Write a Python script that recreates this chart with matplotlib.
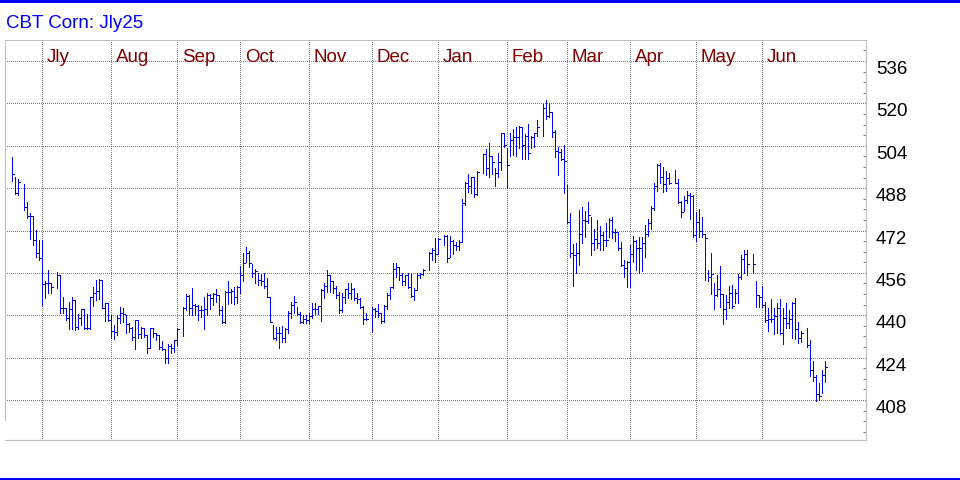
import matplotlib
matplotlib.use("Agg")
import matplotlib.pyplot as plt
import matplotlib.transforms as mtransforms
from matplotlib.patches import Rectangle
from matplotlib.ticker import MultipleLocator
import numpy as np
import pandas as pd

TITLE = "CBT Corn: Jly25"
START = "2024-06-14"          # first bar; one slot per weekday, holidays left blank
MONTHS = ["Jly", "Aug", "Sep", "Oct", "Nov", "Dec",
          "Jan", "Feb", "Mar", "Apr", "May", "Jun"]
PRICE_TICKS = [408, 424, 440, 456, 472, 488, 504, 520, 536]

# daily high / low / close (cents per bushel), None = market closed
highs = [
    499.6, 492.3, 491.3, None, 489.6, 482.8, 478.5, 477.5, 472.2, 468.4,
    468.4, 452.9, 457.1, 452.3, None, 456.3, 455.2, 447.0, 442.6, 444.9,
    447.0, 445.8, 440.5, 442.2, 442.2, 440.5, 447.0, 450.8, 453.3, 453.6,
    453.3, 444.5, 444.5, 440.0, 436.3, 440.0, 443.0, 442.8, 440.0, 437.0,
    435.5, 438.2, 438.2, 435.5, 435.1, 432.6, 435.1, 435.1, 433.4, 432.6,
    430.4, 427.1, 429.2, 429.2, 430.7, 435.1, None, 443.0, 448.0, 447.7,
    450.2, 444.3, 443.9, 443.5, 447.0, 448.3, 448.0, 448.5, 449.8, 447.7,
    443.5, 449.3, 453.1, 449.8, 450.8, 451.2, 458.6, 463.6, 465.9, 464.4,
    459.4, 457.3, 456.1, 455.6, 456.1, 453.9, 447.0, 436.3, 435.7, 435.5,
    435.9, 435.1, 441.7, 445.1, 447.2, 443.2, 441.2, 440.0, 440.0, 441.0,
    444.5, 444.5, 443.5, 449.8, 452.0, 457.1, 455.2, 453.1, 451.0, 448.9,
    448.3, 449.8, 452.0, 452.0, 450.2, 448.3, 446.4, 443.5, 441.0, None,
    443.2, 442.6, 444.2, 441.0, 443.9, 448.5, 450.8, 459.6, 459.9, 458.4,
    455.8, 455.2, 455.8, 455.6, 450.2, 455.8, 455.8, 457.3, None, 464.0,
    465.3, 469.0, 469.0, None, 470.3, 470.3, 469.8, 468.6, 467.5, 468.6,
    484.0, 490.2, 493.2, 492.3, 492.2, 494.6, None, 500.9, 502.7, 505.2,
    500.1, 495.5, 501.4, 509.0, 509.0, 503.0, 509.0, 510.2, 511.0, 511.5,
    511.2, 508.5, 512.2, 507.7, 509.0, 513.7, None, 519.8, 521.3, 520.3,
    516.9, 510.0, 503.4, 502.7, 504.3, 489.2, 478.7, 466.9, 467.4, 479.7,
    480.7, 479.5, 482.9, 477.2, 472.5, 476.0, 473.7, 471.4, 475.0, 476.6,
    477.1, 472.7, 471.6, 467.6, 460.8, 460.6, 466.4, 470.0, 468.3, 469.5,
    469.5, 474.0, 476.2, 481.3, 490.0, 497.0, 497.4, 496.1, 494.6, 493.9,
    None, 494.9, 491.3, 483.3, 485.0, 487.1, 486.3, 485.4, 478.8, 480.0,
    477.0, 470.7, 457.1, 463.6, 452.1, 455.2, 458.6, 448.0, 447.7, 451.1,
    451.4, 449.8, 455.6, 462.8, 464.7, 464.7, None, 463.1, 453.1, 447.7,
    451.1, 445.1, 442.6, 446.0, 442.6, 444.8, 446.0, 442.6, 444.5, 442.0,
    445.1, 446.4, 437.6, 434.2, None, 435.1, 430.7, 422.9, 417.5, 414.5,
    419.3, 422.9,
]

lows = [
    490.8, 485.8, 485.4, None, 479.8, 476.6, 468.9, 466.7, 462.1, 461.0,
    443.8, 446.7, 448.5, 448.5, None, 450.4, 440.7, 440.7, 438.2, 434.7,
    434.7, 434.4, 434.7, 436.3, 434.9, 434.7, 434.9, 443.5, 445.8, 446.0,
    442.6, 437.8, 438.0, 431.5, 431.2, 432.5, 437.0, 437.6, 433.2, 433.5,
    430.7, 427.1, 431.3, 431.3, 431.9, 425.6, 427.5, 431.9, 430.7, 427.1,
    426.9, 421.9, 421.9, 425.6, 426.3, 428.8, None, 432.0, 442.0, 440.1,
    440.1, 440.1, 438.2, 439.5, 434.7, 440.1, 442.2, 443.9, 445.1, 440.1,
    437.2, 437.0, 444.3, 444.5, 444.3, 444.5, 448.3, 453.1, 460.2, 458.4,
    454.6, 452.1, 451.4, 451.4, 450.2, 447.0, 437.6, 430.9, 430.7, 427.5,
    430.0, 430.0, 433.2, 439.0, 441.0, 440.0, 437.1, 437.0, 437.0, 437.0,
    438.8, 440.5, 440.5, 438.0, 446.4, 448.9, 448.9, 448.5, 446.4, 440.7,
    441.4, 444.5, 446.4, 446.0, 445.8, 444.5, 442.6, 436.7, 438.2, None,
    433.8, 439.5, 439.2, 437.2, 437.6, 442.2, 446.0, 450.2, 454.6, 453.3,
    451.4, 451.4, 450.2, 447.0, 445.8, 449.5, 453.9, 455.2, None, 457.1,
    460.9, 460.2, 463.1, None, 466.5, 460.0, 462.0, 463.0, 464.5, 464.6,
    467.5, 481.5, 486.7, 486.0, 484.6, 485.4, None, 493.6, 493.0, 492.3,
    493.3, 488.8, 492.3, 494.9, 503.7, 487.9, 500.1, 500.5, 500.1, 503.0,
    498.9, 498.9, 498.9, 503.0, 503.7, 507.7, None, 507.7, 514.0, 514.8,
    507.4, 499.6, 493.0, 498.6, 486.0, 475.0, 462.1, 451.1, 456.1, 459.0,
    467.4, 469.7, 474.7, 462.8, 464.6, 465.3, 464.6, 464.6, 466.0, 469.4,
    469.1, 468.0, 464.6, 458.6, 454.3, 450.5, 450.5, 460.0, 457.0, 456.0,
    456.8, 462.0, 470.0, 472.5, 479.8, 487.0, 490.1, 486.7, 487.1, 489.6,
    None, 489.8, 482.3, 477.0, 479.5, 482.5, 476.2, 469.7, 468.2, 469.7,
    469.4, 453.3, 453.1, 448.0, 442.2, 447.3, 443.3, 436.7, 438.5, 442.6,
    442.6, 444.5, 444.5, 453.6, 456.1, 455.2, None, 455.8, 443.3, 443.3,
    443.3, 437.6, 434.2, 437.6, 432.9, 433.2, 432.9, 429.2, 435.1, 435.1,
    431.3, 430.9, 429.4, 430.0, None, 428.2, 417.1, 415.3, 407.8, 408.0,
    410.5, 414.9,
]

closes = [
    493.4, 486.3, 490.2, None, 480.8, 477.4, 477.4, 468.4, 463.4, 461.5,
    451.7, 452.3, 452.3, 450.7, None, 455.2, 442.6, 442.6, 438.9, 442.2,
    445.8, 435.5, 438.9, 442.2, 435.1, 435.1, 447.0, 448.3, 449.3, 453.3,
    442.6, 444.5, 438.2, 434.0, 433.6, 439.0, 441.0, 440.3, 436.6, 435.0,
    431.8, 438.2, 433.0, 435.1, 432.6, 427.5, 435.1, 433.4, 432.6, 428.1,
    427.1, 423.8, 428.4, 427.5, 430.7, 434.7, None, 442.6, 447.3, 442.6,
    443.9, 443.5, 442.0, 442.0, 442.2, 447.7, 446.4, 448.0, 447.7, 442.0,
    437.6, 448.9, 448.9, 449.3, 446.8, 450.8, 455.2, 459.9, 463.6, 459.9,
    456.1, 456.8, 453.3, 453.1, 451.1, 447.0, 437.6, 431.3, 433.4, 433.4,
    431.3, 434.7, 441.0, 443.7, 445.1, 440.5, 437.6, 438.6, 438.3, 439.7,
    442.2, 442.2, 443.5, 449.5, 451.0, 455.2, 453.1, 450.2, 447.7, 442.0,
    447.0, 449.8, 448.3, 449.8, 446.4, 446.0, 443.2, 438.5, 438.5, None,
    442.2, 441.7, 441.0, 437.9, 443.5, 447.7, 450.5, 457.3, 458.1, 455.2,
    453.1, 455.2, 450.5, 447.3, 449.5, 455.2, 455.6, 457.1, None, 463.6,
    464.6, 463.0, 468.7, None, 470.0, 461.6, 468.0, 466.5, 466.0, 467.5,
    482.2, 490.0, 488.8, 492.1, 485.6, 494.2, None, 500.9, 495.5, 500.1,
    498.0, 493.6, 498.0, 508.7, 504.3, 496.7, 506.2, 507.2, 507.2, 511.2,
    504.3, 507.7, 501.4, 507.2, 508.7, 511.0, None, 518.1, 515.2, 516.9,
    509.3, 502.2, 501.8, 498.9, 498.4, 475.3, 463.6, 462.8, 463.4, 470.7,
    476.0, 475.7, 477.9, 467.4, 468.7, 467.4, 470.3, 468.5, 468.5, 475.8,
    471.6, 471.6, 465.3, 458.8, 457.7, 460.0, 463.0, 468.0, 465.3, 465.3,
    467.3, 470.7, 474.7, 480.6, 488.8, 496.8, 492.3, 489.6, 491.7, 490.1,
    None, 490.1, 482.9, 479.1, 483.5, 485.4, 485.0, 470.3, 475.4, 471.9,
    470.7, 469.1, 454.6, 455.6, 447.7, 449.8, 448.0, 442.2, 445.1, 448.3,
    443.5, 448.3, 454.6, 461.1, 463.1, 459.4, None, 459.4, 447.5, 447.0,
    443.9, 438.2, 438.5, 438.5, 439.7, 442.6, 433.4, 438.9, 437.2, 438.5,
    444.5, 434.7, 431.3, 433.4, None, 428.8, 419.3, 416.6, 410.3, 409.5,
    417.5, 420.3,
]

plt.rcParams["font.family"] = ["Liberation Sans", "DejaVu Sans"]

BLUE = "#0000ff"
GRID = "#808080"
FRAME = "#c0c0c0"
PX = 0.72   # one pixel in points at dpi=100

dates = pd.bdate_range(START, periods=len(highs))
x = np.arange(len(dates))
hi = np.array(highs, dtype=float)
lo = np.array(lows, dtype=float)
cl = np.array(closes, dtype=float)
ok = ~np.isnan(hi)

# month grid sits one slot before the first weekday of each month
month = dates.month.to_numpy()
first_of_month = np.flatnonzero(month[1:] != month[:-1]) + 1
grid_x = first_of_month - 1

fig = plt.figure(figsize=(9.6, 4.8), dpi=100)
ax = fig.add_axes([5 / 960, 40 / 480, 861 / 960, 400 / 480])

# HLC bars
ax.vlines(x[ok], lo[ok], hi[ok], color=BLUE, lw=PX, antialiased=False)
ax.hlines(cl[ok], x[ok], x[ok] + 0.7, color=BLUE, lw=PX, antialiased=False)

ax.set_xlim(-2.43, 284.57)
ax.set_ylim(392.9, 543.93)

# grid
ax.set_yticks(PRICE_TICKS)
ax.set_xticks(grid_x)
ax.grid(True, which="major", ls=(0, (1, 2)), color=GRID, lw=PX,
        antialiased=False)
ax.tick_params(axis="x", length=0, labelbottom=False)

# right price scale
ax.yaxis.tick_right()
ax.yaxis.set_minor_locator(MultipleLocator(4))
ax.tick_params(axis="y", which="major", length=0, pad=7, labelsize=13.5,
               labelcolor="black")
ax.tick_params(axis="y", which="minor", direction="in", length=2.2,
               width=PX, color=GRID)
for lab in ax.get_yticklabels():
    lab.set_va("top")

# month labels along the top
blend = mtransforms.blended_transform_factory(ax.transData, ax.transAxes)
lab_tr = mtransforms.offset_copy(blend, fig=fig, x=4.4, y=0, units="dots")
for gx, name in zip(grid_x, MONTHS):
    ax.text(gx, 0.946, name, transform=lab_tr, color="#800000",
            fontsize=13.5, ha="left", va="baseline")

# frame
for side in ("right", "bottom"):
    ax.spines[side].set_color(FRAME)
    ax.spines[side].set_linewidth(PX * 1.2)
for side in ("left", "top"):
    ax.spines[side].set_color(FRAME)
    ax.spines[side].set_linewidth(PX)
    ax.spines[side].set_linestyle((0, (1, 1)))
ax.spines["left"].set_bounds(400.45, 543.93)

# title and blue rules
fig.text(5.7 / 960, 1 - 28 / 480, TITLE, color=BLUE, fontsize=13.5,
         ha="left", va="baseline")
fig.add_artist(Rectangle((0, 1 - 3 / 480), 1, 3 / 480, transform=fig.transFigure,
                         color=BLUE, lw=0))
fig.add_artist(Rectangle((0, 0), 1, 2.5 / 480, transform=fig.transFigure,
                         color=BLUE, lw=0))

fig.savefig("out.png", dpi=100)
